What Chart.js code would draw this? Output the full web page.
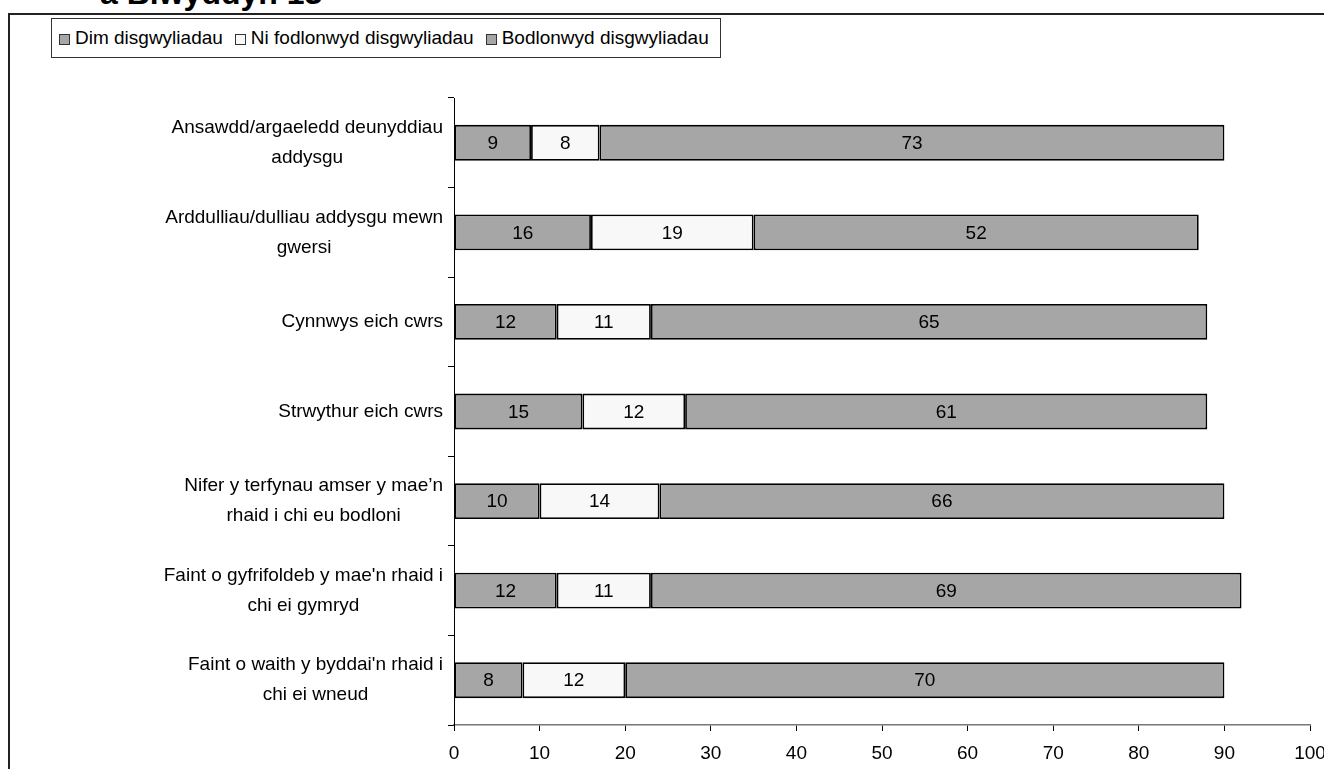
<!DOCTYPE html>
<html>
<head>
<meta charset="utf-8">
<script src="https://cdn.jsdelivr.net/npm/chart.js@4.4.0/dist/chart.umd.min.js"></script>
<style>
  html, body { margin: 0; padding: 0; background: #fff; overflow: hidden; }
  body { width: 1324px; height: 769px; position: relative; font-family: 'Liberation Sans', Arial, sans-serif; }
  #frame { position: absolute; left: 8px; top: 13px; width: 2000px; height: 2000px; border-left: 2px solid #222; border-top: 2px solid #222; }
  #title { position: absolute; left: 100px; top: -23px; font-size: 32px; font-weight: bold; line-height: 32px; white-space: nowrap; }
  #legend { position: absolute; left: 51px; top: 18px; width: 670px; height: 40px; border: 1px solid #333; background: #fff;
    display: flex; align-items: center; font-size: 19px; padding-left: 7px; box-sizing: border-box; white-space: nowrap; }
  #legend .item { display: flex; align-items: center; margin-right: 12px; }
  #legend .sw { width: 9px; height: 9px; border: 1px solid #333; margin-right: 5px; margin-top: 2px; }
  #wrap { position: absolute; left: 0; top: 0; width: 1340px; height: 769px; }
</style>
</head>
<body>
<div id="frame"></div>
<div id="title">a Blwyddyn 13</div>
<div id="wrap"><canvas id="chart"></canvas></div>
<div id="legend"></div>
<script>
const categories = [
  ['Ansawdd/argaeledd deunyddiau', 'addysgu'],
  ['Arddulliau/dulliau addysgu mewn', 'gwersi'],
  ['Cynnwys eich cwrs'],
  ['Strwythur eich cwrs'],
  ['Nifer y terfynau amser y mae\u2019n', 'rhaid i chi eu bodloni'],
  ["Faint o gyfrifoldeb y mae'n rhaid i", 'chi ei gymryd'],
  ["Faint o waith y byddai'n rhaid i", 'chi ei wneud']
];
const seriesNames = ['Dim disgwyliadau', 'Ni fodlonwyd disgwyliadau', 'Bodlonwyd disgwyliadau'];
const dimValues = [9, 16, 12, 15, 10, 12, 8];
const niValues = [8, 19, 11, 12, 14, 11, 12];
const bodValues = [73, 52, 65, 61, 66, 69, 70];
const xMin = 0, xMax = 100, xStep = 10;

const FONT = "'Liberation Sans', Arial, sans-serif";
const FS = 19;
const colors = ['#a6a6a6', '#f8f8f8', '#a6a6a6'];

// legend in a box, like the original
const legendEl = document.getElementById('legend');
seriesNames.forEach((name, i) => {
  const it = document.createElement('div');
  it.className = 'item';
  it.innerHTML = '<div class="sw" style="background:' + colors[i] + '"></div><span>' + name + '</span>';
  legendEl.appendChild(it);
});

// labels in the middle of each segment
const segLabels = {
  id: 'segLabels',
  afterDatasetsDraw(chart) {
    const ctx = chart.ctx;
    ctx.save();
    ctx.font = FS + 'px ' + FONT;
    ctx.fillStyle = '#000';
    ctx.textAlign = 'center';
    ctx.textBaseline = 'middle';
    chart.data.datasets.forEach((ds, di) => {
      chart.getDatasetMeta(di).data.forEach((bar, i) => {
        const p = bar.getProps(['x', 'y', 'base'], true);
        ctx.fillText(String(ds.data[i]), (p.x + p.base) / 2, p.y + 1);
      });
    });
    ctx.restore();
  }
};

// category labels: block right-aligned, lines centred inside the block
const catLabels = {
  id: 'catLabels',
  afterDraw(chart) {
    const ctx = chart.ctx;
    const y = chart.scales.y;
    const right = y.right - 11;
    const lh = 30;
    ctx.save();
    ctx.font = FS + 'px ' + FONT;
    ctx.fillStyle = '#000';
    ctx.textAlign = 'center';
    ctx.textBaseline = 'middle';
    categories.forEach((lines, i) => {
      const cy = y.getPixelForTick(i);
      const w = Math.max(...lines.map(l => ctx.measureText(l).width));
      const cx = right - w / 2;
      lines.forEach((l, k) => {
        ctx.fillText(l, cx, cy + (k - (lines.length - 1) / 2) * lh);
      });
    });
    ctx.restore();
  }
};

new Chart(document.getElementById('chart'), {
  type: 'bar',
  data: {
    labels: categories,
    datasets: [dimValues, niValues, bodValues].map((vals, i) => ({
      label: seriesNames[i],
      data: vals,
      backgroundColor: colors[i],
      borderColor: '#000',
      borderWidth: 1.8,
      borderSkipped: false,
      barPercentage: 0.4,
      categoryPercentage: 1
    }))
  },
  options: {
    indexAxis: 'y',
    responsive: true,
    maintainAspectRatio: false,
    animation: false,
    layout: { padding: { top: 98, right: 30, left: 0, bottom: 0 } },
    plugins: { legend: { display: false }, tooltip: { enabled: false } },
    scales: {
      x: {
        stacked: true,
        min: xMin,
        max: xMax,
        ticks: { stepSize: xStep, color: '#000', font: { family: FONT, size: FS }, padding: 11, maxRotation: 0 },
        grid: { drawOnChartArea: false, drawTicks: true, tickLength: 6, color: '#000' },
        border: { color: '#777', width: 1.5 },
        afterFit: s => { s.height = 44; }
      },
      y: {
        stacked: true,
        ticks: { display: false },
        grid: { drawOnChartArea: false, drawTicks: true, tickLength: 6, offset: true, color: '#000' },
        border: { color: '#000', width: 1 },
        afterFit: s => { s.width = 454; }
      }
    }
  },
  plugins: [segLabels, catLabels]
});
</script>
</body>
</html>
